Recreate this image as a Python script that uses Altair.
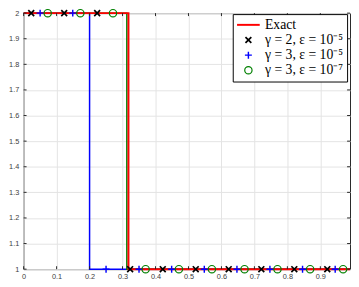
import altair as alt
import pandas as pd

# ---- data ----
series_names = ["Exact", "γ = 2, ε = 10⁻⁵", "γ = 3, ε = 10⁻⁵", "γ = 3, ε = 10⁻⁷"]
series_colors = ["#ff0000", "#000000", "#0000ff", "#008000"]

exact_x = [0.0, 0.318, 0.318, 0.99]
exact_y = [2, 2, 1, 1]
g3e5_line_x = [0.0, 0.2, 0.2, 0.99]
g3e5_line_y = [2, 2, 1, 1]
g3e7_line_x = [0.0, 0.313, 0.313, 0.99]
g3e7_line_y = [2, 2, 1, 1]

g2e5_x = [0.023, 0.123, 0.223, 0.323, 0.422, 0.522, 0.622, 0.721, 0.821, 0.921]
g2e5_y = [2, 2, 2, 1, 1, 1, 1, 1, 1, 1]
g3e5_x = [0.050, 0.149, 0.250, 0.350, 0.449, 0.548, 0.647, 0.747, 0.846, 0.945]
g3e5_y = [2, 2, 1, 1, 1, 1, 1, 1, 1, 1]
g3e7_x = [0.073, 0.172, 0.271, 0.370, 0.471, 0.571, 0.670, 0.770, 0.869, 0.969]
g3e7_y = [2, 2, 2, 1, 1, 1, 1, 1, 1, 1]

x_ticks = [0, 0.1, 0.2, 0.3, 0.4, 0.5, 0.6, 0.7, 0.8, 0.9]
y_ticks = [1.0, 1.1, 1.2, 1.3, 1.4, 1.5, 1.6, 1.7, 1.8, 1.9, 2.0]

W, H = 334, 262

lines = pd.concat([
    pd.DataFrame({"x": g3e5_line_x, "y": g3e5_line_y, "s": series_names[2], "o": range(4)}),
    pd.DataFrame({"x": g3e7_line_x, "y": g3e7_line_y, "s": series_names[3], "o": range(4)}),
    pd.DataFrame({"x": exact_x, "y": exact_y, "s": series_names[0], "o": range(4)}),
])
pts = pd.concat([
    pd.DataFrame({"x": g2e5_x, "y": g2e5_y, "s": series_names[1]}),
    pd.DataFrame({"x": g3e5_x, "y": g3e5_y, "s": series_names[2]}),
    pd.DataFrame({"x": g3e7_x, "y": g3e7_y, "s": series_names[3]}),
])

xscale = alt.Scale(domain=[0, 0.99], nice=False, zero=False)
yscale = alt.Scale(domain=[1, 2], nice=False, zero=False)
xax = alt.Axis(values=x_ticks, format="~g", grid=True, ticks=False, labelFlush=False,
               labelOverlap=False, labelBound=False, labelPadding=4, domain=False)
yax = alt.Axis(values=y_ticks, format="~g", grid=True, ticks=False, labelFlush=False,
               labelOverlap=False, labelBound=False, labelPadding=5, domain=False)

X = lambda f: alt.X(f, scale=xscale, axis=xax, title=None)
Y = lambda f: alt.Y(f, scale=yscale, axis=yax, title=None)


def line_layer(name, color, width):
    return alt.Chart(lines).transform_filter(alt.datum.s == name).mark_line(
        color=color, strokeWidth=width, interpolate="linear"
    ).encode(x=X("x:Q"), y=Y("y:Q"), order="o:Q")


l_blue = line_layer(series_names[2], "#0000ff", 1.5)
l_green = line_layer(series_names[3], "#008000", 1.5)
l_red = line_layer(series_names[0], "#ff0000", 2)

shape_paths = [
    "M-3.1,0H3.1",
    "M-0.8,-0.8L0.8,0.8M-0.8,0.8L0.8,-0.8",
    "M-0.95,0H0.95M0,-0.95V0.95",
    "circle",
]

points = alt.Chart(pts).mark_point(filled=False, size=56, opacity=1).encode(
    x=X("x:Q"),
    y=Y("y:Q"),
    stroke=alt.Stroke("s:N", scale=alt.Scale(domain=series_names, range=series_colors),
                      legend=alt.Legend(
                          title=None, orient="none", legendX=214, legendY=1,
                          fillColor="white", strokeColor="black", padding=4,
                          labelFont="Liberation Serif", labelFontSize=14, labelColor="black",
                          labelOffset=10, rowPadding=1.5, symbolOffset=5, symbolSize=56,
                          labelLimit=300)),
    shape=alt.Shape("s:N", scale=alt.Scale(domain=series_names, range=shape_paths),
                    legend=alt.Legend(title=None)),
    strokeWidth=alt.StrokeWidth("s:N", scale=alt.Scale(domain=series_names, range=[2, 1.2, 1.2, 1.2]),
                                legend=alt.Legend(title=None)),
)

tick_color = "#262626"
xt = pd.DataFrame({"v": x_ticks})
yt = pd.DataFrame({"v": y_ticks})
tb = alt.Chart(xt).mark_rule(color=tick_color, strokeWidth=1).encode(
    x=X("v:Q"), y=alt.value(H), y2=alt.value(H - 3))
tt = alt.Chart(xt).mark_rule(color=tick_color, strokeWidth=1).encode(
    x=X("v:Q"), y=alt.value(0), y2=alt.value(3))
tl = alt.Chart(yt).mark_rule(color=tick_color, strokeWidth=1).encode(
    y=Y("v:Q"), x=alt.value(0), x2=alt.value(3))
tr = alt.Chart(yt).mark_rule(color=tick_color, strokeWidth=1).encode(
    y=Y("v:Q"), x=alt.value(W), x2=alt.value(W - 3))

chart = alt.layer(l_blue, l_green, l_red, tb, tt, tl, tr, points).properties(
    width=W, height=H,
    autosize="none",
    padding={"left": 16, "top": 2, "right": 1, "bottom": 15},
).configure_view(
    stroke="#262626", strokeWidth=1
).configure_axis(
    gridColor="#e3e3e3", gridWidth=1,
    labelFont="Liberation Sans", labelFontSize=7.5, labelColor="#404040",
)

chart.save("out.html", embed_options={"renderer": "svg", "actions": False})
